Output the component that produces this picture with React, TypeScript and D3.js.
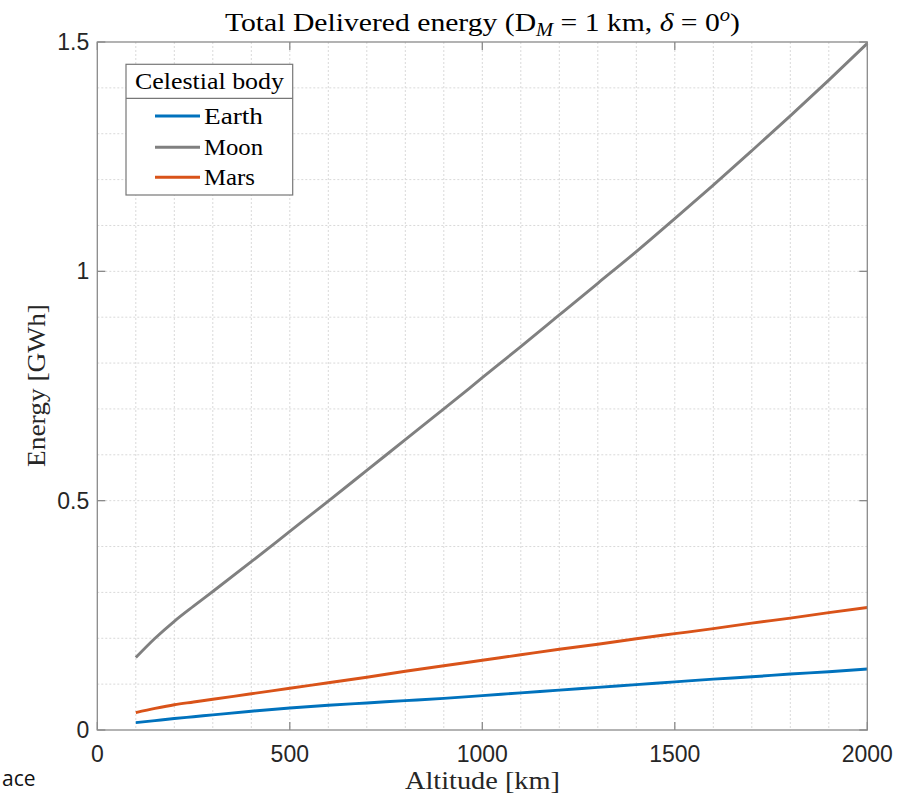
import React from "react";
import * as d3 from "d3";

// Altitude samples (km)
const altitude = [100, 150, 200, 250, 300, 400, 500, 600, 700, 800, 900, 1000, 1100, 1200, 1300, 1400, 1500, 1600, 1700, 1800, 1900, 2000];

// Total delivered energy per celestial body (GWh)
const earth = [0.016, 0.0205, 0.025, 0.029, 0.033, 0.041, 0.048, 0.054, 0.059, 0.064, 0.069, 0.075, 0.081, 0.087, 0.093, 0.099, 0.105, 0.111, 0.116, 0.122, 0.127, 0.133];
const moon = [0.158, 0.200, 0.237, 0.270, 0.302, 0.367, 0.433, 0.499, 0.566, 0.633, 0.700, 0.768, 0.836, 0.905, 0.974, 1.043, 1.115, 1.188, 1.263, 1.339, 1.417, 1.497];
const mars = [0.038, 0.047, 0.055, 0.061, 0.067, 0.079, 0.091, 0.103, 0.115, 0.128, 0.140, 0.152, 0.164, 0.176, 0.187, 0.199, 0.210, 0.221, 0.233, 0.244, 0.256, 0.267];

const seriesNames = ["Earth", "Moon", "Mars"];
const seriesColors = ["#0072BD", "#808080", "#D95319"];
const seriesValues = [earth, moon, mars];

const xTicks = [0, 500, 1000, 1500, 2000];
const yTicks = [0, 0.5, 1, 1.5];
const yTickLabels = ["0", "0.5", "1", "1.5"];

const W = 910;
const H = 796;
const left = 97.3;
const right = 867.3;
const top = 42;
const bottom = 730;

const serif = "'Liberation Serif', 'DejaVu Serif', serif";
const sans = "'Liberation Sans', Arial, sans-serif";

export default function App() {
  const x = d3.scaleLinear().domain([0, 2000]).range([left, right]);
  const y = d3.scaleLinear().domain([0, 1.5]).range([bottom, top]);

  const line = d3
    .line<[number, number]>()
    .x((d) => x(d[0]))
    .y((d) => y(d[1]))
    .curve(d3.curveMonotoneX);

  const xMinor = d3.range(100, 2000, 100);
  const yMinor = d3.range(0.1, 1.5, 0.1);

  const axisColor = "#8a8a8a";
  const gridColor = "#d9d9d9";
  const tickLen = 8;

  // legend geometry
  const lg = { x0: 126, x1: 292.7, y0: 64.3, y1: 195, sep: 98.3 };
  const legendRows = [116, 147.3, 177.3];
  const legendWidths = [59, 59, 51];

  return (
    <svg
      width={W}
      height={H}
      viewBox={`0 0 ${W} ${H}`}
      style={{ position: "absolute", left: 0, top: 0, background: "#fff" }}
    >
      <rect x={0} y={0} width={W} height={H} fill="#fff" />

      {/* grid */}
      <g stroke={gridColor} strokeWidth={1} strokeDasharray="2,2">
        {xMinor.map((v) => (
          <line key={"gx" + v} x1={x(v)} x2={x(v)} y1={top} y2={bottom} />
        ))}
        {yMinor.map((v, i) => (
          <line key={"gy" + i} x1={left} x2={right} y1={y(v)} y2={y(v)} />
        ))}
      </g>

      {/* series */}
      {seriesValues.map((vals, i) => (
        <path
          key={seriesNames[i]}
          d={line(altitude.map((a, j) => [a, vals[j]] as [number, number])) || ""}
          fill="none"
          stroke={seriesColors[i]}
          strokeWidth={2.9}
          strokeLinejoin="round"
        />
      ))}

      {/* axes box */}
      <rect x={left} y={top} width={right - left} height={bottom - top} fill="none" stroke={axisColor} strokeWidth={1.3} />

      {/* ticks */}
      <g stroke={axisColor} strokeWidth={1.3}>
        {xTicks.map((v) => (
          <g key={"tx" + v}>
            <line x1={x(v)} x2={x(v)} y1={bottom} y2={bottom - tickLen} />
            <line x1={x(v)} x2={x(v)} y1={top} y2={top + tickLen} />
          </g>
        ))}
        {yTicks.map((v) => (
          <g key={"ty" + v}>
            <line x1={left} x2={left + tickLen} y1={y(v)} y2={y(v)} />
            <line x1={right} x2={right - tickLen} y1={y(v)} y2={y(v)} />
          </g>
        ))}
      </g>

      {/* tick labels */}
      <g fontFamily={sans} fontSize={23} fill="#262626">
        {xTicks.map((v) => (
          <text key={"lx" + v} x={x(v)} y={bottom + 32} textAnchor="middle">
            {v}
          </text>
        ))}
        {yTicks.map((v, i) => (
          <text key={"ly" + v} x={left - 8} y={y(v) + 8} textAnchor="end">
            {yTickLabels[i]}
          </text>
        ))}
      </g>

      {/* title */}
      <text
        x={225}
        y={31}
        fontFamily={serif}
        fontSize={26}
        fill="#000"
        textLength={515}
        lengthAdjust="spacingAndGlyphs"
      >
        Total Delivered energy (D
        <tspan fontSize={18} dy={5} fontStyle="italic">M</tspan>
        <tspan dy={-5}> = 1 km, </tspan>
        <tspan fontStyle="italic">δ</tspan>
        <tspan> = 0</tspan>
        <tspan fontSize={18} dy={-10} fontStyle="italic">o</tspan>
        <tspan dy={10}>)</tspan>
      </text>

      {/* axis labels */}
      <text
        x={405}
        y={789}
        fontFamily={serif}
        fontSize={25}
        fill="#262626"
        textLength={155}
        lengthAdjust="spacingAndGlyphs"
      >
        Altitude [km]
      </text>
      <text
        transform={`translate(45, ${(top + bottom) / 2 + 81}) rotate(-90)`}
        fontFamily={serif}
        fontSize={25}
        fill="#262626"
        textLength={163}
        lengthAdjust="spacingAndGlyphs"
      >
        Energy [GWh]
      </text>

      {/* legend */}
      <g>
        <rect x={lg.x0} y={lg.y0} width={lg.x1 - lg.x0} height={lg.y1 - lg.y0} fill="#fff" stroke="#777" strokeWidth={1.2} />
        <line x1={lg.x0} x2={lg.x1} y1={lg.sep} y2={lg.sep} stroke="#777" strokeWidth={1.2} />
        <text
          x={135}
          y={89}
          fontFamily={serif}
          fontSize={24}
          fill="#000"
          textLength={149}
          lengthAdjust="spacingAndGlyphs"
        >
          Celestial body
        </text>
        {seriesNames.map((n, i) => (
          <g key={"lg" + n}>
            <line x1={155} x2={200} y1={legendRows[i]} y2={legendRows[i]} stroke={seriesColors[i]} strokeWidth={2.9} />
            <text
              x={204}
              y={legendRows[i] + 8}
              fontFamily={serif}
              fontSize={24}
              fill="#000"
              textLength={legendWidths[i]}
              lengthAdjust="spacingAndGlyphs"
            >
              {n}
            </text>
          </g>
        ))}
      </g>

      {/* caption fragment at lower left */}
      <text x={2} y={786} fontFamily="'Open Sans', 'Noto Sans', sans-serif" fontSize={21} fill="#111">
        ace
      </text>
    </svg>
  );
}
